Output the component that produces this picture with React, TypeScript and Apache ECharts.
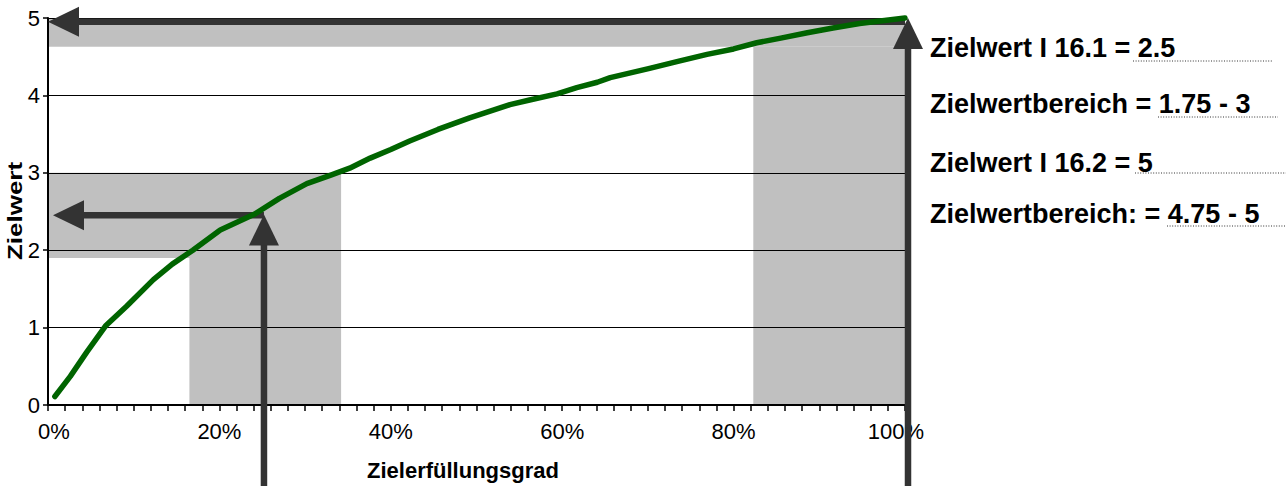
import React, { useEffect, useRef } from "react";
import * as echarts from "echarts";

// Curve: Zielerfüllungsgrad (%) -> Zielwert
const xPct = [0.8, 2.6, 4.5, 6.7, 9.2, 12.3, 14.5, 16.9, 20.1, 24, 27, 30.2, 33, 35.2, 37.6, 40, 42.2, 45.5, 49.2, 53.9, 56.2, 59.4, 61.7, 64.1, 65.6, 70.2, 73.5, 76.9, 80, 82.7, 85.5, 88.6, 91.6, 94.7, 100];
const yVal = [0.11, 0.37, 0.68, 1.02, 1.28, 1.62, 1.82, 2.0, 2.26, 2.46, 2.67, 2.86, 2.97, 3.06, 3.19, 3.3, 3.41, 3.56, 3.71, 3.88, 3.94, 4.02, 4.1, 4.17, 4.23, 4.35, 4.44, 4.53, 4.6, 4.68, 4.74, 4.81, 4.87, 4.93, 5.0];

// Grey ranges: [x0, y0, x1, y1]
const greyRects = [
  [0, 4.63, 100, 5],
  [0, 1.9, 34.2, 3],
  [16.5, 0, 34.2, 1.9],
  [82.3, 0, 100, 4.63],
];

// Arrows: [xFrom, yFrom, xTo, yTo] (tip at "to")
const arrows = [
  [100, 4.95, 0, 4.95],
  [100.35, -1.3, 100.35, 5.0],
  [25.2, -1.3, 25.2, 2.46],
  [25.2, 2.45, 0.58, 2.45],
];

const xLabelValues = [0, 20, 40, 60, 80, 100];

const notes = [
  "Zielwert I 16.1 = 2.5",
  "Zielwertbereich = 1.75 - 3",
  "Zielwert I 16.2 = 5",
  "Zielwertbereich: = 4.75 - 5",
];

const FONT = "'Liberation Sans', Arial, Helvetica, sans-serif";

export default function App() {
  const ref = useRef<HTMLDivElement>(null);

  useEffect(() => {
    if (!ref.current) return;
    const chart = echarts.init(ref.current, undefined, { renderer: "svg" });

    const noteY = [47.6, 103.6, 162.6, 213.6];
    const dots = [
      [1133, 61, 1273],
      [1158, 117, 1278],
      [1135, 173, 1286],
      [1167, 226, 1286],
    ];

    const graphic: any[] = [];
    notes.forEach((t, i) => {
      graphic.push({
        type: "text",
        x: 930,
        y: noteY[i],
        style: {
          text: t,
          font: `bold 27px ${FONT}`,
          fill: "#000",
          align: "left",
          verticalAlign: "middle",
        },
      });
      graphic.push({
        type: "line",
        shape: { x1: dots[i][0], y1: dots[i][1], x2: dots[i][2], y2: dots[i][1] },
        style: { stroke: "#333", lineWidth: 1, lineDash: [1, 1.6] },
      });
    });
    graphic.push({
      type: "text",
      x: 15,
      y: 211,
      rotation: Math.PI / 2,
      scaleX: 1.3,
      style: {
        text: "Zielwert",
        font: `bold 20px ${FONT}`,
        fill: "#000",
        align: "center",
        verticalAlign: "middle",
      },
    });
    graphic.push({
      type: "text",
      x: 463,
      y: 470,
      style: {
        text: "Zielerfüllungsgrad",
        font: `bold 22px ${FONT}`,
        fill: "#000",
        align: "center",
        verticalAlign: "middle",
      },
    });

    const HEAD_LEN = 31;
    const HEAD_HALF = 15;
    const SHAFT = 6.5;
    const ARROW_COLOR = "#333333";

    chart.setOption({
      animation: false,
      backgroundColor: "#fff",
      textStyle: { fontFamily: FONT },
      grid: { left: 48, right: 381, top: 18, bottom: 81, containLabel: false },
      xAxis: {
        type: "value",
        min: 0,
        max: 100,
        interval: 2,
        z: 1,
        axisLine: { show: true, onZero: false, lineStyle: { color: "#000", width: 2 } },
        axisTick: { show: true, length: 6, lineStyle: { color: "#000", width: 1.5 } },
        axisLabel: {
          color: "#000",
          fontSize: 22,
          fontFamily: FONT,
          margin: 15,
          formatter: (v: number) => {
            const r = Math.round(v);
            if (Math.abs(v - r) > 1e-6 || !xLabelValues.includes(r)) return "";
            if (r === 0) return `{first|${r}%}`;
            if (r === 100) return `{last|${r}%}`;
            return `${r}%`;
          },
          rich: {
            first: { fontSize: 22, fontFamily: FONT, color: "#000", padding: [0, 0, 0, 12] },
            last: { fontSize: 22, fontFamily: FONT, color: "#000", padding: [0, 18, 0, 0] },
          },
        },
        splitLine: { show: false },
      },
      yAxis: {
        type: "value",
        min: 0,
        max: 5,
        interval: 1,
        z: 1,
        axisLine: { show: true, lineStyle: { color: "#000", width: 2 } },
        axisTick: { show: true, length: 5, lineStyle: { color: "#000", width: 1.5 } },
        axisLabel: { color: "#000", fontSize: 22, fontFamily: FONT, margin: 8 },
        splitLine: { show: true, lineStyle: { color: "#000", width: 1.2 } },
      },
      graphic,
      series: [
        {
          type: "custom",
          z: 0,
          clip: false,
          silent: true,
          encode: { x: [0, 2], y: [1, 3] },
          data: greyRects,
          renderItem: (params: any, api: any) => {
            const p0 = api.coord([api.value(0), api.value(1)]);
            const p1 = api.coord([api.value(2), api.value(3)]);
            return {
              type: "rect",
              shape: {
                x: Math.min(p0[0], p1[0]),
                y: Math.min(p0[1], p1[1]),
                width: Math.abs(p1[0] - p0[0]),
                height: Math.abs(p1[1] - p0[1]),
              },
              style: { fill: "#c0c0c0" },
            };
          },
        },
        {
          type: "custom",
          z: 2,
          clip: false,
          silent: true,
          encode: { x: [0, 2], y: [1, 3] },
          data: arrows,
          renderItem: (params: any, api: any) => {
            const p0 = api.coord([api.value(0), api.value(1)]);
            const p1 = api.coord([api.value(2), api.value(3)]);
            const dx = p1[0] - p0[0];
            const dy = p1[1] - p0[1];
            const len = Math.sqrt(dx * dx + dy * dy) || 1;
            const ux = dx / len;
            const uy = dy / len;
            const nx = -uy;
            const ny = ux;
            const bx = p1[0] - ux * HEAD_LEN;
            const by = p1[1] - uy * HEAD_LEN;
            return {
              type: "group",
              children: [
                {
                  type: "line",
                  shape: { x1: p0[0], y1: p0[1], x2: bx + ux * 2, y2: by + uy * 2 },
                  style: { stroke: ARROW_COLOR, lineWidth: SHAFT },
                },
                {
                  type: "polygon",
                  shape: {
                    points: [
                      [p1[0], p1[1]],
                      [bx + nx * HEAD_HALF, by + ny * HEAD_HALF],
                      [bx - nx * HEAD_HALF, by - ny * HEAD_HALF],
                    ],
                  },
                  style: { fill: ARROW_COLOR },
                },
              ],
            };
          },
        },
        {
          type: "line",
          z: 3,
          clip: false,
          silent: true,
          showSymbol: false,
          symbol: "none",
          data: xPct.map((x, i) => [x, yVal[i]]),
          lineStyle: { color: "#006400", width: 5.5, cap: "round", join: "round" },
        },
      ],
    });

    return () => chart.dispose();
  }, []);

  return (
    <div
      ref={ref}
      style={{ position: "fixed", left: 0, top: 0, width: 1286, height: 486 }}
    />
  );
}
